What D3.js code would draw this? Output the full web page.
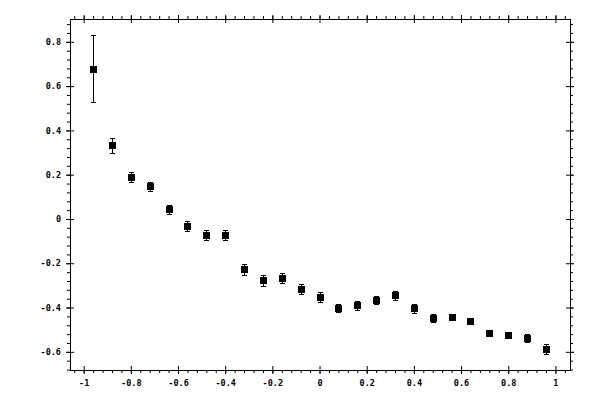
<!DOCTYPE html>
<html>
<head>
<meta charset="utf-8">
<script src="https://cdn.jsdelivr.net/npm/d3@7"></script>
<style>
  body { margin: 0; background: #fff; }
  svg { display: block; }
  .tick text { font-family: "DejaVu Sans Mono", monospace; font-size: 8.5px; font-weight: bold; fill: #000; }
  .tick line { stroke: #000; }
</style>
</head>
<body>
<svg id="chart" width="600" height="400"></svg>
<script>
// measured points
const xVals = [-0.96, -0.88, -0.8, -0.72, -0.64, -0.56, -0.48, -0.4, -0.32, -0.24, -0.16, -0.08,
  0, 0.08, 0.16, 0.24, 0.32, 0.4, 0.48, 0.56, 0.64, 0.72, 0.8, 0.88, 0.96];
const yVals = [0.678, 0.333, 0.188, 0.148, 0.044, -0.032, -0.072, -0.072, -0.228, -0.277, -0.268, -0.316,
  -0.354, -0.402, -0.39, -0.366, -0.345, -0.404, -0.446, -0.443, -0.46, -0.516, -0.524, -0.537, -0.587];
const yErr = [0.152, 0.033, 0.023, 0.021, 0.02, 0.022, 0.022, 0.022, 0.025, 0.025, 0.022, 0.022,
  0.022, 0.02, 0.02, 0.02, 0.02, 0.02, 0.017, 0.012, 0.01, 0.008, 0.01, 0.018, 0.021];

const xMajor = [-1, -0.8, -0.6, -0.4, -0.2, 0, 0.2, 0.4, 0.6, 0.8, 1];
const yMajor = [-0.6, -0.4, -0.2, 0, 0.2, 0.4, 0.6, 0.8];

const svg = d3.select("#chart");
const mLeft = 70, mRight = 570, mTop = 19, mBottom = 370;

const x = d3.scaleLinear().domain([-1.058, 1.062]).range([mLeft, mRight]);
const y = d3.scaleLinear().domain([-0.682, 0.903]).range([mBottom, mTop]);

// minor ticks every 0.04
const xMinor = d3.range(-52, 54, 2).map(d => d / 50).filter(d => d > -1.058 && d < 1.062);
const yMinor = d3.range(-34, 46, 2).map(d => d / 50).filter(d => d > -0.682 && d < 0.903);

const fmt = d => String(+d.toFixed(1));

function addAxis(axisFn, scale, pos, transform, vals, minor, labels) {
  const g = svg.append("g").attr("transform", transform);
  // minor ticks, outside only
  g.append("g").call(axisFn(scale).tickValues(minor).tickSize(3).tickSizeOuter(0).tickFormat(""));
  // major ticks, inside part
  g.append("g").call(axisFn(scale).tickValues(vals).tickSize(-4).tickSizeOuter(0).tickFormat(""));
  // major ticks, outside part + labels
  g.append("g").call(axisFn(scale).tickValues(vals).tickSize(4).tickSizeOuter(0)
    .tickPadding(pos === "bottom" ? 6 : 5).tickFormat(labels ? fmt : ""));
  g.selectAll(".domain").remove();
}

addAxis(d3.axisBottom, x, "bottom", `translate(0,${mBottom})`, xMajor, xMinor, true);
addAxis(d3.axisTop, x, "top", `translate(0,${mTop})`, xMajor, xMinor, false);
addAxis(d3.axisLeft, y, "left", `translate(${mLeft},0)`, yMajor, yMinor, true);
addAxis(d3.axisRight, y, "right", `translate(${mRight},0)`, yMajor, yMinor, false);

svg.append("rect")
  .attr("x", mLeft + 0.5).attr("y", mTop + 0.5)
  .attr("width", mRight - mLeft).attr("height", mBottom - mTop)
  .attr("fill", "none").attr("stroke", "#000").attr("shape-rendering", "crispEdges");

const pts = xVals.map((v, i) => ({ x: v, y: yVals[i], e: yErr[i] }));

const g = svg.append("g").attr("shape-rendering", "crispEdges");

// error bars
g.selectAll(".err").data(pts).enter().append("line")
  .attr("x1", d => Math.round(x(d.x)) + 0.5).attr("x2", d => Math.round(x(d.x)) + 0.5)
  .attr("y1", d => y(d.y + d.e)).attr("y2", d => y(d.y - d.e))
  .attr("stroke", "#000");

g.selectAll(".capTop").data(pts).enter().append("line")
  .attr("x1", d => Math.round(x(d.x)) - 2).attr("x2", d => Math.round(x(d.x)) + 3)
  .attr("y1", d => Math.round(y(d.y + d.e)) + 0.5).attr("y2", d => Math.round(y(d.y + d.e)) + 0.5)
  .attr("stroke", "#000");

g.selectAll(".capBot").data(pts).enter().append("line")
  .attr("x1", d => Math.round(x(d.x)) - 2).attr("x2", d => Math.round(x(d.x)) + 3)
  .attr("y1", d => Math.round(y(d.y - d.e)) + 0.5).attr("y2", d => Math.round(y(d.y - d.e)) + 0.5)
  .attr("stroke", "#000");

// square markers
g.selectAll(".pt").data(pts).enter().append("rect")
  .attr("x", d => Math.round(x(d.x)) - 3).attr("y", d => Math.round(y(d.y)) - 3)
  .attr("width", 7).attr("height", 7)
  .attr("fill", "#000");
</script>
</body>
</html>
